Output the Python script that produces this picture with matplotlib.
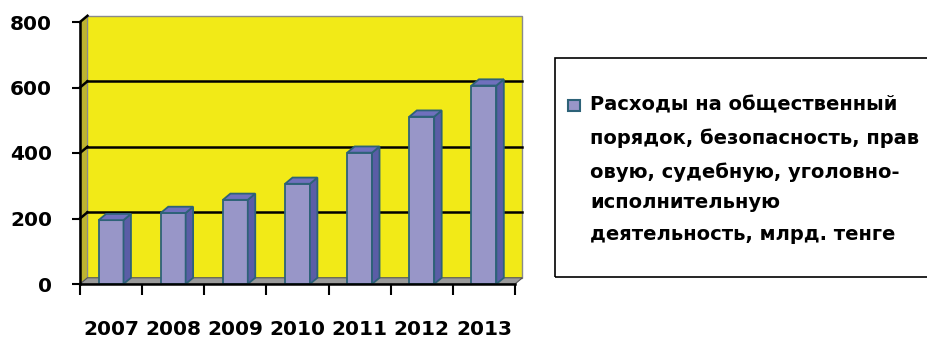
import matplotlib
matplotlib.use('Agg')
import matplotlib.pyplot as plt
from matplotlib.patches import Polygon, Rectangle

# данные
years = ['2007', '2008', '2009', '2010', '2011', '2012', '2013']
values = [195, 217, 257, 306, 401, 511, 606]
legend_lines = ['Расходы на общественный',
                'порядок, безопасность, прав',
                'овую, судебную, уголовно-',
                'исполнительную',
                'деятельность, млрд. тенге']

W, H = 928, 339
font = ['DejaVu Sans']

fig = plt.figure(figsize=(W / 100, H / 100), dpi=100)
ax = fig.add_axes([80 / W, 1 - 284 / H, (515 - 80) / W, (284 - 22) / H])
ax.set_xlim(-0.5, len(years) - 0.5)
ax.set_ylim(0, 800)
ax.patch.set_visible(False)

dx, dy = 0.12, 19  # глубина 3d
x0, x1 = -0.5, len(years) - 0.5

# задняя стенка, левая стенка, пол
ax.add_patch(Polygon([(x0 + dx, dy), (x1 + dx, dy), (x1 + dx, 800 + dy), (x0 + dx, 800 + dy)],
                     closed=True, fc='#f2ea17', ec='#8a8a8a', lw=1, clip_on=False, zorder=0))
ax.add_patch(Polygon([(x0, 0), (x0 + dx, dy), (x0 + dx, 800 + dy), (x0, 800)],
                     closed=True, fc='#bdb430', ec='#8a8a8a', lw=0.8, clip_on=False, zorder=0))
ax.add_patch(Polygon([(x0, 0), (x1, 0), (x1 + dx, dy), (x0 + dx, dy)],
                     closed=True, fc='#9a9a9a', ec='#555555', lw=0.8, clip_on=False, zorder=0.5))

# сетка
for v in range(200, 801, 200):
    if v < 800:
        ax.plot([x0 + dx, x1 + dx], [v + dy, v + dy], color='black', lw=1.8, clip_on=False, zorder=1)
    ax.plot([x0, x0 + dx], [v, v + dy], color='black', lw=1.8, clip_on=False, zorder=1)

# столбцы
w = 0.2
front = '#9896c8'
edge = '#2d6278'
ax.bar(range(len(years)), values, width=2 * w, color=front, edgecolor=edge, lw=1.3, zorder=3)
for i, v in enumerate(values):
    ax.add_patch(Polygon([(i + w, 0), (i + w + dx, dy), (i + w + dx, v + dy), (i + w, v)],
                         closed=True, fc='#5a5da6', ec=edge, lw=1.3, zorder=3, clip_on=False))
    ax.add_patch(Polygon([(i - w, v), (i - w + dx, v + dy), (i + w + dx, v + dy), (i + w, v)],
                         closed=True, fc='#6f70bd', ec=edge, lw=1.3, zorder=3, clip_on=False))

# оси
for s in ['top', 'right']:
    ax.spines[s].set_visible(False)
ax.spines['left'].set_linewidth(1.8)
ax.spines['bottom'].set_linewidth(1.8)
ax.spines['left'].set_zorder(4)
ax.spines['bottom'].set_zorder(4)

ax.set_yticks(range(0, 801, 200))
ax.tick_params(axis='y', direction='out', length=6, width=1.5, pad=14)
ax.set_xticks(range(len(years)))
ax.set_xticklabels(years)
ax.set_xticks([i - 0.5 for i in range(len(years) + 1)], minor=True)
ax.tick_params(axis='x', which='major', length=0, pad=26)
ax.tick_params(axis='x', which='minor', direction='out', length=8, width=1.5)
for lab in ax.get_yticklabels() + ax.get_xticklabels():
    lab.set_family(font)
    lab.set_fontweight('bold')
    lab.set_fontsize(14.5)

# легенда
fig.add_artist(Rectangle((555 / W, 1 - 277 / H), (945 - 555) / W, (277 - 58) / H,
                         transform=fig.transFigure, fill=False, ec='black', lw=1.2))
fig.add_artist(Rectangle((568 / W, 1 - 111 / H), 12 / W, 11 / H,
                         transform=fig.transFigure, fc=front, ec=edge, lw=1.5))
ys = [105, 138, 172, 203, 235]
for t, y in zip(legend_lines, ys):
    fig.text(590 / W, 1 - y / H, t, family=font, fontweight='bold', fontsize=14, va='center', ha='left')

fig.savefig('out.png', dpi=100)
